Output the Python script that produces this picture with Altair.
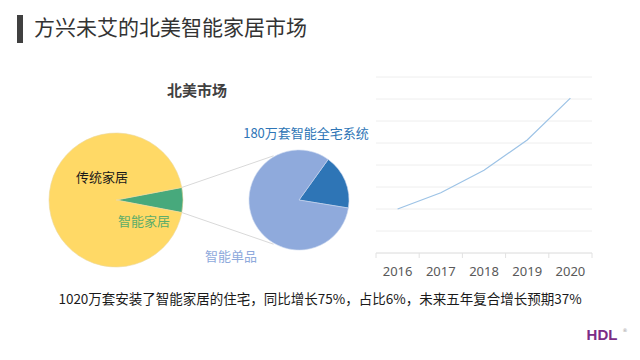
import math
import altair as alt
import pandas as pd

# ---------------- data ----------------
big_labels = ["智能家居", "传统家居"]
big_values = [6, 94]              # share of homes (%)
small_labels = ["180万套智能全宅系统", "智能单品"]
small_values = [180, 840]         # 10k homes (total 1020)
years = ["2016", "2017", "2018", "2019", "2020"]
growth = [2.0, 2.74, 3.76, 5.14, 7.04]
grid_levels = [0, 1, 2, 3, 4, 5, 6, 7, 8]

title_text = "方兴未艾的北美智能家居市场"
pie_title = "北美市场"
note_text = "1020万套安装了智能家居的住宅，同比增长75%，占比6%，未来五年复合增长预期37%"
logo_text = "HDL"

# ---------------- layout / style ----------------
W, H = 624, 344
CJK = "Noto Sans CJK SC"
YELLOW, GREEN = "#FFD966", "#47A97C"
LBLUE, DBLUE = "#8FAADC", "#2E75B6"
LINE = "#9DC3E6"

BCX, BCY, BR = 108, 192, 67
SCX, SCY, SR = 291, 192, 50
green_share = big_values[0] / sum(big_values)
g_start = math.pi / 2 - green_share * math.pi      # centre wedge at 3 o'clock
s_start = math.radians(35.7)

LX0, LX1 = 368, 584    # line chart plot range (x)
LY0, LY1 = 245, 69     # line chart plot range (y)

def pt(cx, cy, r, a):
    return cx + r * math.sin(a), cy - r * math.cos(a)

base = alt.Chart(pd.DataFrame({"k": [0]}))

# title bar + title
bar = base.mark_rect(color="#404040").encode(
    x=alt.value(9), x2=alt.value(15), y=alt.value(7), y2=alt.value(35))
title = base.mark_text(text=title_text, font=CJK, fontSize=21, color="#333333",
                       align="left", baseline="middle").encode(
    x=alt.value(26), y=alt.value(21))
ptitle = base.mark_text(text=pie_title, font=CJK, fontSize=15, fontWeight="bold",
                        color="#404040", align="center", baseline="middle").encode(
    x=alt.value(189), y=alt.value(83))

# connector lines
p1 = pt(BCX, BCY, BR, g_start)
p2 = pt(BCX, BCY, BR, g_start + green_share * 2 * math.pi)
q1 = pt(SCX, SCY, SR + 1, math.radians(330))
q2 = pt(SCX, SCY, SR + 1, math.radians(210))
conn_df = pd.DataFrame({"x": [p1[0], p2[0]], "y": [p1[1], p2[1]],
                        "x2": [q1[0], q2[0]], "y2": [q1[1], q2[1]]})
conn = alt.Chart(conn_df).mark_rule(color="#D9D9D9", strokeWidth=1).encode(
    x=alt.X("x:Q", scale=None, axis=None), y=alt.Y("y:Q", scale=None, axis=None),
    x2="x2:Q", y2="y2:Q")

# big pie
big_df = pd.DataFrame({"label": big_labels, "value": big_values, "o": [0, 1]})
big = alt.Chart(big_df).mark_arc(radius=BR, stroke="#EBD9A0", strokeWidth=0.6).encode(
    theta=alt.Theta("value:Q", stack=True,
                    scale=alt.Scale(range=[g_start, g_start + 2 * math.pi])),
    order=alt.Order("o:Q"),
    color=alt.Color("label:N", scale=alt.Scale(domain=big_labels, range=[GREEN, YELLOW]),
                    legend=None),
    x=alt.value(BCX), y=alt.value(BCY))

# small pie
small_df = pd.DataFrame({"label": small_labels, "value": small_values, "o": [0, 1]})
small = alt.Chart(small_df).mark_arc(radius=SR, stroke="#C9D6EE", strokeWidth=0.6).encode(
    theta=alt.Theta("value:Q", stack=True,
                    scale=alt.Scale(range=[s_start, s_start + 2 * math.pi])),
    order=alt.Order("o:Q"),
    color=alt.Color("label:N", scale=alt.Scale(domain=small_labels, range=[DBLUE, LBLUE]),
                    legend=None),
    x=alt.value(SCX), y=alt.value(SCY))

def label(txt, x, y, color, size=13):
    return base.mark_text(text=txt, font=CJK, fontSize=size, color=color,
                          align="center", baseline="middle").encode(
        x=alt.value(x), y=alt.value(y))

l1 = label(big_labels[1], 94, 170, "#1A1A1A")
l2 = label(big_labels[0], 136, 214, "#5DAD6A")
l3 = label(small_labels[0], 298, 126, DBLUE)
l4 = label(small_labels[1], 223, 249, LBLUE)

# line chart
ys = alt.Scale(domain=[0, 8], range=[LY0, LY1])
grid_df = pd.DataFrame({"v": grid_levels})
grid = alt.Chart(grid_df).mark_rule(color="#EEEEEE", strokeWidth=1).encode(
    y=alt.Y("v:Q", scale=ys, axis=None),
    x=alt.value(LX0), x2=alt.value(LX1))
base_df = pd.DataFrame({"v": [0]})
baseline = alt.Chart(base_df).mark_rule(color="#E2E2E2", strokeWidth=1).encode(
    y=alt.Y("v:Q", scale=ys, axis=None),
    x=alt.value(LX0), x2=alt.value(LX1))
# band-boundary ticks under the baseline
tick_df = pd.DataFrame({"b": list(range(len(years) + 1))})
ticks = alt.Chart(tick_df).mark_rule(color="#E2E2E2", strokeWidth=1).encode(
    x=alt.X("b:Q", scale=alt.Scale(domain=[0, len(years)], range=[LX0, LX1]), axis=None),
    y=alt.value(LY0), y2=alt.value(LY0 + 5))

xband = alt.Scale(domain=years, range=[LX0, LX1], padding=0.5)
line_df = pd.DataFrame({"year": years, "v": growth})
line = alt.Chart(line_df).mark_line(color=LINE, strokeWidth=1.2).encode(
    x=alt.X("year:O", scale=xband, axis=None),
    y=alt.Y("v:Q", scale=ys, axis=None))
ylab = alt.Chart(line_df).mark_text(font="Noto Sans", fontSize=13, color="#595959",
                                   baseline="middle").encode(
    x=alt.X("year:O", scale=xband, axis=None),
    y=alt.value(264), text="year:N")

note = base.mark_text(text=note_text, font=CJK, fontSize=13.5, color="#1A1A1A",
                      align="center", baseline="middle").encode(
    x=alt.value(312), y=alt.value(292))
logo = base.mark_text(text=logo_text, font="Liberation Sans", fontSize=15,
                      fontWeight="bold", color="#7B2D86", align="center",
                      baseline="middle").encode(x=alt.value(594), y=alt.value(327))
reg = base.mark_text(text="®", font="DejaVu Sans", fontSize=5, color="#999999",
                     align="center", baseline="middle").encode(
    x=alt.value(617), y=alt.value(322))

chart = alt.layer(
    bar, title, ptitle, conn, big, small, l1, l2, l3, l4,
    grid, baseline, ticks, line, ylab, note, logo, reg
).resolve_scale(
    x="independent", y="independent", theta="independent", color="independent"
).properties(
    width=W, height=H, autosize=alt.AutoSizeParams(type="none"), padding=0
).configure(
    background="white", view=alt.ViewConfig(stroke=None, strokeWidth=0)
)

chart.save("out.html", embed_options={"renderer": "svg", "actions": False})
